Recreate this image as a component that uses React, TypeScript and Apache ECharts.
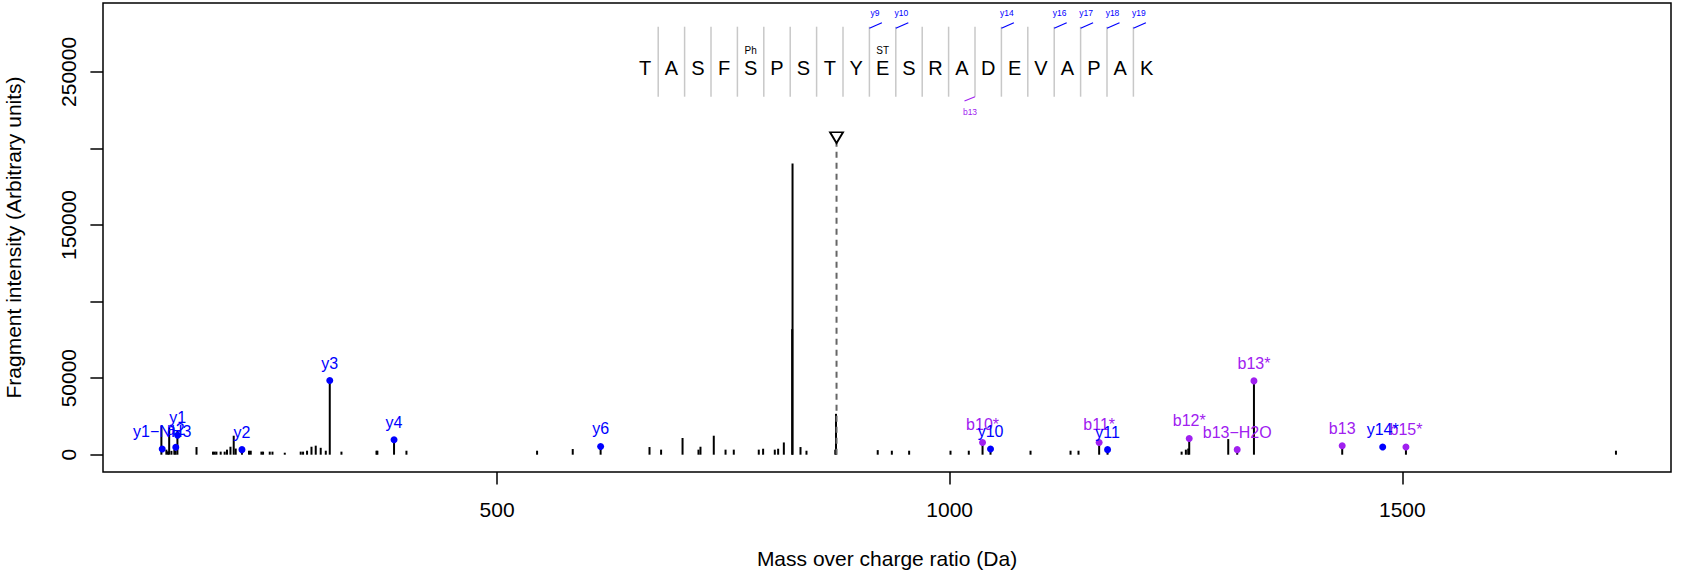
import React, { useEffect, useRef } from "react";
import * as echarts from "echarts";

// ---------- data ----------
const peakMz = [
  129.2, 134.7, 136.5, 137.8, 140.3, 143.5, 144.8, 146.9, 168.0, 186.2, 188.1, 190.0,
  194.7, 199.1, 201.7, 205.5, 209.1, 211.3, 218.2, 226.0, 227.9, 239.7, 241.5, 248.9,
  251.9, 265.5, 283.1, 285.7, 290.1, 295.0, 299.7, 305.2, 310.8, 315.2, 328.1, 366.8,
  367.8, 386.2, 399.9, 544.2, 583.6, 614.4, 668.4, 681.2, 704.9, 722.5, 724.7, 739.4,
  752.4, 761.5, 789.1, 793.9, 806.8, 810.5, 816.8, 826.0, 826.4, 835.2, 841.8, 873.6,
  874.4, 920.5, 936.1, 955.2, 1000.9, 1021.1, 1036.3, 1045.1, 1089.3, 1133.5, 1142.3,
  1165.1, 1174.4, 1256.2, 1260.9, 1263.5, 1264.6, 1307.7, 1317.6, 1336.1, 1433.6,
  1504.0, 1736.0,
];
const peakIntensity = [
  19000, 3300, 2200, 17500, 2500, 3300, 2600, 16000, 5000, 2000, 2000, 2000,
  2000, 2000, 3300, 5200, 12400, 4000, 3300, 2600, 2600, 2000, 2000, 2000,
  2000, 1300, 2000, 2000, 2600, 5200, 5900, 4500, 2600, 48400, 2000, 2600,
  2600, 9800, 2600, 2600, 3700, 5400, 5000, 3300, 10900, 3300, 5200, 12400,
  3300, 3300, 3300, 3900, 3300, 3900, 8000, 82000, 190200, 5000, 2600, 3300,
  26700, 3000, 2600, 2600, 2600, 2600, 8000, 3700, 2600, 2600, 2600,
  8000, 3300, 2000, 3300, 4000, 10600, 10200, 3300, 48200, 5900,
  5000, 2600,
];

// y-type fragment ions (blue)
const yIonLabels = ["y1\u2212NH3", "a2", "y1", "y2", "y3", "y4", "y6", "y10", "y11", "y14*"];
const yIonMz = [130.1, 145.1, 147.1, 218.2, 315.2, 386.2, 614.4, 1045.1, 1174.4, 1478.3];
const yIonIntensity = [3700, 4900, 12700, 3300, 48400, 9800, 5400, 3700, 3300, 5000];

// b-type fragment ions (purple)
const bIonLabels = ["b10*", "b11*", "b12*", "b13\u2212H2O", "b13*", "b13", "b15*"];
const bIonMz = [1036.3, 1165.1, 1264.6, 1317.6, 1336.1, 1433.6, 1504.0];
const bIonIntensity = [8000, 8000, 10600, 3300, 48200, 5900, 5000];

// precursor
const precursorMz = 875.0;
const precursorIntensity = 207000;

// axis ticks
const xTicks = [500, 1000, 1500];
const yTicks = [0, 50000, 100000, 150000, 200000, 250000];
const yTickLabels = [0, 50000, 150000, 250000];

// peptide sequence annotation
const sequence = "TASFSPSTYESRADEVAPAK".split("");
const modLabels = [
  { index: 4, text: "Ph" },
  { index: 9, text: "ST" },
];
const ySeqTicks = [9, 10, 14, 16, 17, 18, 19];
const bSeqTicks = [13];

const BLUE = "#0000FF";
const PURPLE = "#A020F0";
const FONT = "'Liberation Sans', Arial, Helvetica, sans-serif";

function buildGraphic() {
  const els: any[] = [];
  const x0 = 645;
  const step = 26.4;
  const sepTop = 26.7;
  const sepBottom = 96.7;
  for (let k = 1; k < sequence.length; k++) {
    const sx = x0 + step / 2 + (k - 1) * step;
    els.push({
      type: "line",
      shape: { x1: sx, y1: sepTop, x2: sx, y2: sepBottom },
      style: { stroke: "#c8c8c8", lineWidth: 1.5 },
      silent: true,
    });
  }
  sequence.forEach((ch, i) => {
    els.push({
      type: "text",
      x: x0 + i * step,
      y: 68.3,
      style: {
        text: ch,
        fill: "#000",
        font: `20px ${FONT}`,
        textAlign: "center",
        textVerticalAlign: "middle",
      },
      silent: true,
    });
  });
  modLabels.forEach((m) => {
    els.push({
      type: "text",
      x: x0 + m.index * step,
      y: 50.7,
      style: {
        text: m.text,
        fill: "#000",
        font: `10px ${FONT}`,
        textAlign: "center",
        textVerticalAlign: "middle",
      },
      silent: true,
    });
  });
  ySeqTicks.forEach((k) => {
    const sx = x0 + step / 2 + (k - 1) * step;
    els.push({
      type: "line",
      shape: { x1: sx, y1: 28.3, x2: sx + 12.5, y2: 22.7 },
      style: { stroke: BLUE, lineWidth: 1.2 },
      silent: true,
    });
    els.push({
      type: "text",
      x: sx + 5.5,
      y: 13.3,
      style: {
        text: "y" + k,
        fill: BLUE,
        font: `8.5px ${FONT}`,
        textAlign: "center",
        textVerticalAlign: "middle",
      },
      silent: true,
    });
  });
  bSeqTicks.forEach((k) => {
    const sx = x0 + step / 2 + (k - 1) * step;
    els.push({
      type: "line",
      shape: { x1: sx, y1: 96.7, x2: sx - 10.5, y2: 101 },
      style: { stroke: PURPLE, lineWidth: 1.2 },
      silent: true,
    });
    els.push({
      type: "text",
      x: sx - 5,
      y: 111.7,
      style: {
        text: "b" + k,
        fill: PURPLE,
        font: `8.5px ${FONT}`,
        textAlign: "center",
        textVerticalAlign: "middle",
      },
      silent: true,
    });
  });
  return els;
}

export default function App() {
  const ref = useRef<HTMLDivElement>(null);
  useEffect(() => {
    if (!ref.current) return;
    const chart = echarts.init(ref.current, undefined, { renderer: "svg" });
    const peakData = peakMz.map((m, i) => [m, peakIntensity[i]]);
    const ionLabelStyle = (color: string) => ({
      show: true,
      position: "top",
      distance: 6,
      formatter: "{b}",
      color,
      fontSize: 16,
      lineHeight: 16,
      fontFamily: FONT,
    });
    const option: any = {
      animation: false,
      backgroundColor: "#fff",
      textStyle: { fontFamily: FONT },
      grid: {
        show: true,
        left: 103,
        right: 14,
        top: 3,
        bottom: 107,
        containLabel: false,
        outerBoundsMode: "none",
        borderColor: "#000",
        borderWidth: 1.5,
        backgroundColor: "transparent",
      },
      xAxis: {
        type: "value",
        min: 64.7,
        max: 1796.8,
        name: "Mass over charge ratio (Da)",
        nameLocation: "middle",
        nameGap: 76,
        nameTextStyle: { fontSize: 21, color: "#000", fontFamily: FONT },
        axisLine: { show: false, onZero: false },
        splitLine: { show: false },
        axisTick: {
          show: true,
          length: 12.6,
          customValues: xTicks,
          lineStyle: { color: "#000", width: 1.5 },
        },
        axisLabel: {
          customValues: xTicks,
          fontSize: 21,
          color: "#000",
          margin: 27,
          fontFamily: FONT,
          formatter: (v: number) => String(v),
        },
      },
      yAxis: {
        type: "value",
        min: -11300,
        max: 295000,
        name: "Fragment intensity (Arbitrary units)",
        nameLocation: "middle",
        nameGap: 79,
        nameTextStyle: { fontSize: 21, color: "#000", fontFamily: FONT },
        axisLine: { show: false, onZero: false },
        splitLine: { show: false },
        axisTick: {
          show: true,
          length: 12.6,
          customValues: yTicks,
          lineStyle: { color: "#000", width: 1.5 },
        },
        axisLabel: {
          customValues: yTickLabels,
          rotate: 90,
          fontSize: 21,
          color: "#000",
          margin: 24,
          fontFamily: FONT,
          formatter: (v: number) => String(v),
        },
      },
      series: [
        {
          type: "custom",
          name: "peaks",
          silent: true,
          z: 2,
          data: peakData,
          encode: { x: 0, y: 1 },
          renderItem: (params: any, api: any) => {
            const base = api.coord([api.value(0), 0]);
            const top = api.coord([api.value(0), api.value(1)]);
            return {
              type: "line",
              shape: { x1: base[0], y1: base[1], x2: top[0], y2: top[1] },
              style: { stroke: "#000", lineWidth: 2 },
            };
          },
        },
        {
          type: "line",
          name: "precursor",
          silent: true,
          z: 3,
          symbol: "none",
          data: [
            [precursorMz, 0],
            [precursorMz, precursorIntensity - 3300],
          ],
          lineStyle: { color: "#666", width: 2, type: [6, 5] },
        },
        {
          type: "scatter",
          name: "precursorMark",
          silent: true,
          z: 4,
          symbol: "triangle",
          symbolRotate: 180,
          symbolSize: [13, 11],
          data: [[precursorMz, precursorIntensity]],
          itemStyle: { color: "#fff", borderColor: "#000", borderWidth: 1.8, opacity: 1 },
        },
        {
          type: "scatter",
          name: "b ions",
          silent: true,
          z: 5,
          symbol: "circle",
          symbolSize: 7,
          itemStyle: { color: PURPLE, opacity: 1 },
          label: ionLabelStyle(PURPLE),
          data: bIonMz.map((m, i) => ({ name: bIonLabels[i], value: [m, bIonIntensity[i]] })),
        },
        {
          type: "scatter",
          name: "y ions",
          silent: true,
          z: 6,
          symbol: "circle",
          symbolSize: 7,
          itemStyle: { color: BLUE, opacity: 1 },
          label: ionLabelStyle(BLUE),
          data: yIonMz.map((m, i) => ({ name: yIonLabels[i], value: [m, yIonIntensity[i]] })),
        },
      ],
      graphic: buildGraphic(),
    };
    chart.setOption(option);
    return () => chart.dispose();
  }, []);
  return (
    <div
      ref={ref}
      style={{ position: "absolute", left: 0, top: 0, width: 1685, height: 579, background: "#fff" }}
    />
  );
}
